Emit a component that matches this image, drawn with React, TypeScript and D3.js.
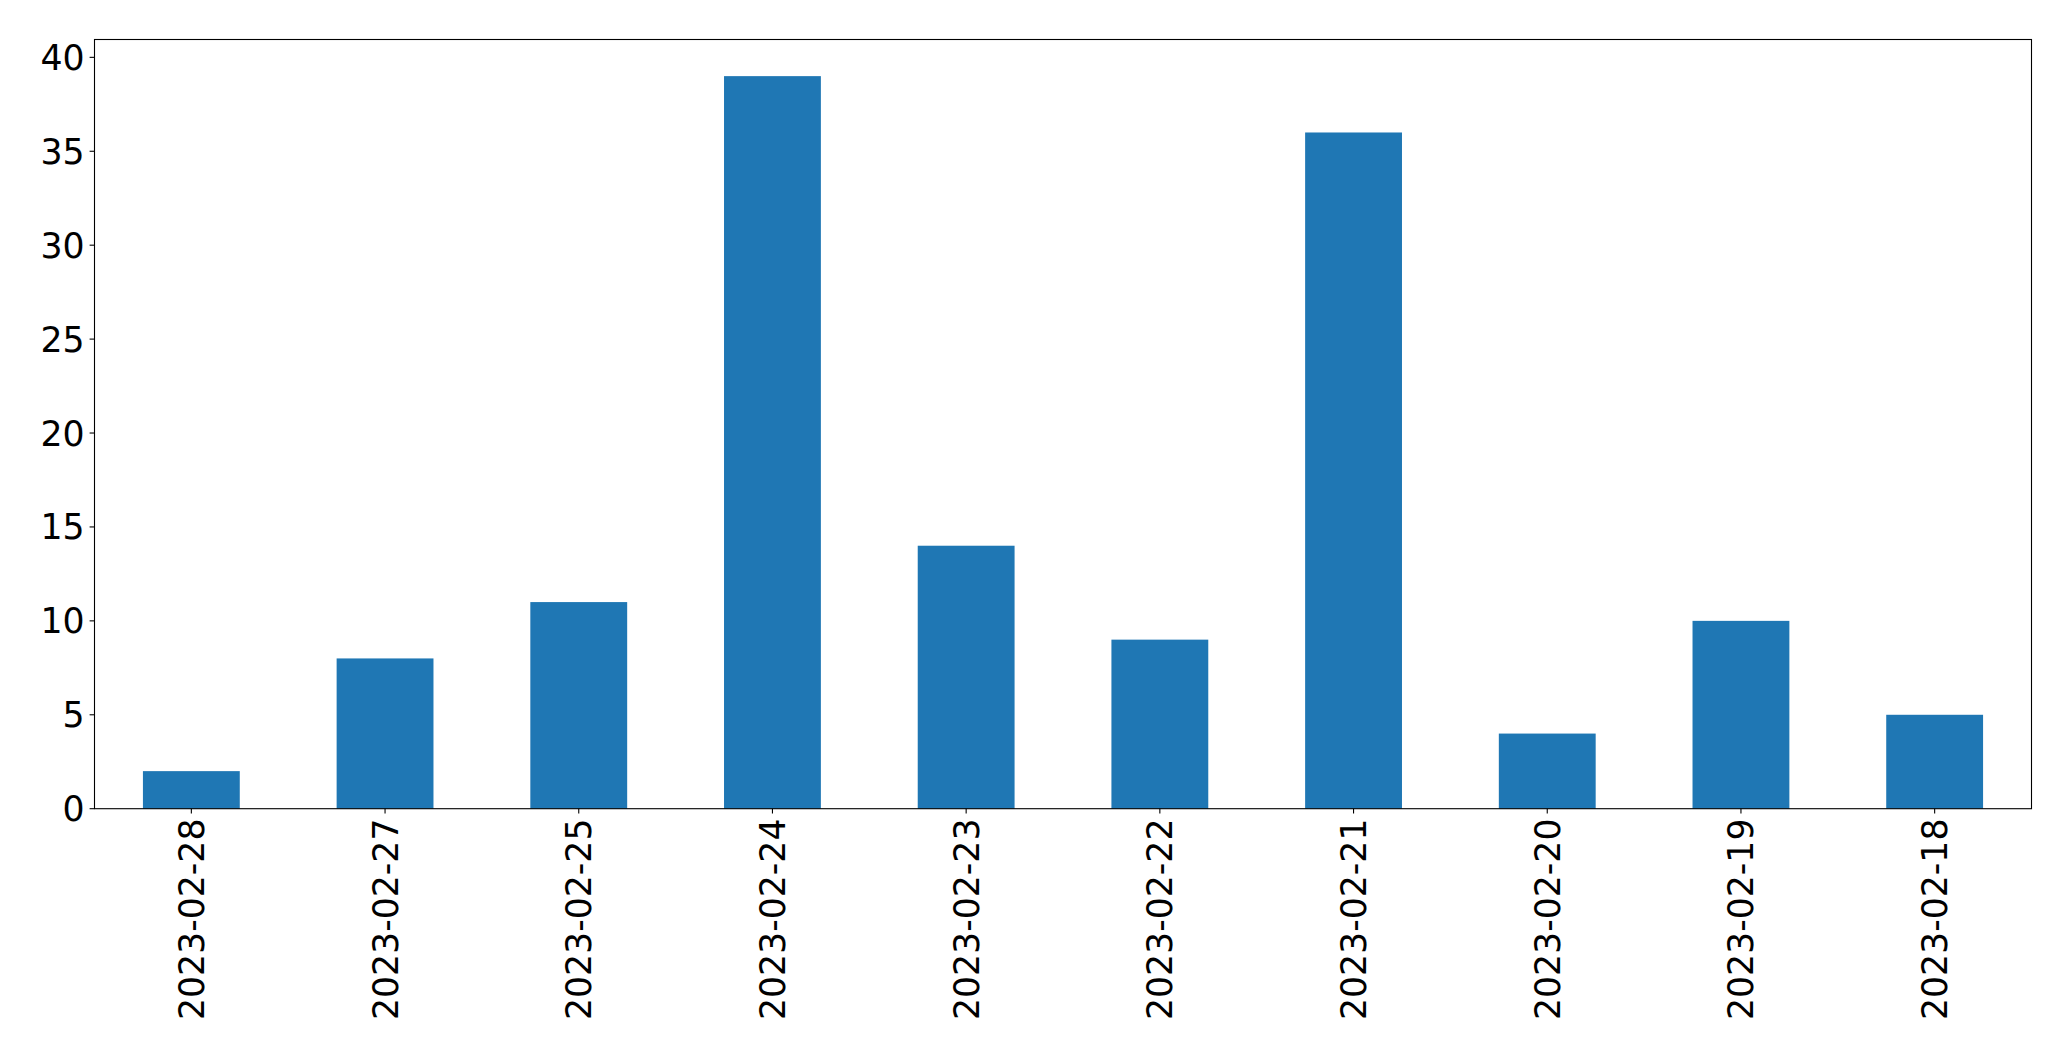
import React from "react";
import * as d3 from "d3";

const categories = [
  "2023-02-28",
  "2023-02-27",
  "2023-02-25",
  "2023-02-24",
  "2023-02-23",
  "2023-02-22",
  "2023-02-21",
  "2023-02-20",
  "2023-02-19",
  "2023-02-18",
];
const values = [2, 8, 11, 39, 14, 9, 36, 4, 10, 5];
const yTicks = [0, 5, 10, 15, 20, 25, 30, 35, 40];

const W = 2071;
const H = 1061;
const left = 94.5;
const right = 2031.5;
const top = 39.5;
const bottom = 808.7;
const fontSize = 34.7;
const tickLen = 4.9;
const pad = 4.9;
const color = "#1f77b4";
const font = "'DejaVu Sans', sans-serif";

export default function App() {
  const x = d3
    .scaleBand<string>()
    .domain(categories)
    .range([left, right])
    .paddingInner(0.5)
    .paddingOuter(0.25);
  const y = d3
    .scaleLinear()
    .domain([0, d3.max(values)! * 1.05])
    .range([bottom, top]);

  return (
    <div style={{ position: "fixed", left: 0, top: 0, background: "#fff" }}>
      <svg width={W} height={H} style={{ display: "block" }}>
        <rect x={0} y={0} width={W} height={H} fill="#fff" />
        {categories.map((c, i) => (
          <rect
            key={c}
            x={x(c)!}
            y={y(values[i])}
            width={x.bandwidth()}
            height={y(0) - y(values[i])}
            fill={color}
          />
        ))}
        <rect
          x={left}
          y={top}
          width={right - left}
          height={bottom - top}
          fill="none"
          stroke="#000"
          strokeWidth={1.1}
        />
        {yTicks.map((t) => (
          <g key={t}>
            <line
              x1={left - tickLen}
              x2={left}
              y1={y(t)}
              y2={y(t)}
              stroke="#000"
              strokeWidth={1.1}
            />
            <text
              x={left - tickLen - pad}
              y={y(t)}
              dy="0.36em"
              textAnchor="end"
              fontFamily={font}
              fontSize={fontSize}
              fill="#000"
            >
              {t}
            </text>
          </g>
        ))}
        {categories.map((c) => {
          const cx = x(c)! + x.bandwidth() / 2;
          return (
            <g key={c}>
              <line
                x1={cx}
                x2={cx}
                y1={bottom}
                y2={bottom + tickLen}
                stroke="#000"
                strokeWidth={1.1}
              />
              <text
                transform={`translate(${cx},${bottom + tickLen + pad}) rotate(-90)`}
                dy="0.36em"
                textAnchor="end"
                fontFamily={font}
                fontSize={fontSize}
                fill="#000"
              >
                {c}
              </text>
            </g>
          );
        })}
      </svg>
    </div>
  );
}
